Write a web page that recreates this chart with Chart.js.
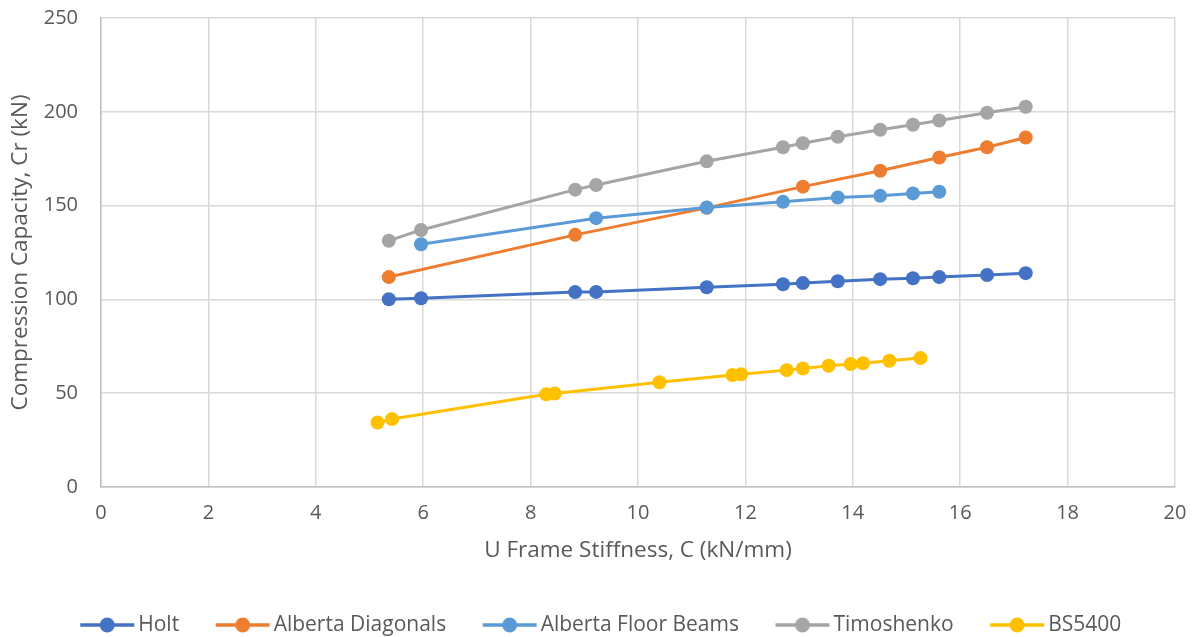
<!DOCTYPE html>
<html>
<head>
<meta charset="utf-8">
<script src="https://cdn.jsdelivr.net/npm/chart.js@4/dist/chart.umd.min.js"></script>
<style>
  html, body { margin: 0; padding: 0; background: #fff; }
  #wrap { width: 1196px; height: 637px; }
</style>
</head>
<body>
<div id="wrap"><canvas id="uframeChart" width="1196" height="637"></canvas></div>
<script>
// series names
const seriesNames = ["Holt", "Alberta Diagonals", "Alberta Floor Beams", "Timoshenko", "BS5400"];
const seriesColors = ["#4472c4", "#ed7d31", "#5b9bd5", "#a5a5a5", "#ffc000"];

// U frame stiffness C (kN/mm) and compression capacity Cr (kN)
const holtC = [5.36, 5.96, 8.83, 9.22, 11.28, 12.70, 13.07, 13.72, 14.51, 15.12, 15.61, 16.50, 17.22];
const holtCr = [100.1, 100.6, 103.9, 104.0, 106.5, 108.1, 108.7, 109.7, 110.8, 111.3, 111.9, 113.0, 114.0];

const diagC = [5.36, 8.83, 11.28, 13.07, 14.51, 15.61, 16.50, 17.22];
const diagCr = [111.9, 134.4, 148.8, 160.1, 168.6, 175.6, 181.1, 186.3];

const floorC = [5.96, 9.22, 11.28, 12.70, 13.72, 14.51, 15.12, 15.61];
const floorCr = [129.4, 143.3, 149.0, 152.0, 154.3, 155.2, 156.5, 157.4];

const timoC = [5.36, 5.96, 8.83, 9.22, 11.28, 12.70, 13.07, 13.72, 14.51, 15.12, 15.61, 16.50, 17.22];
const timoCr = [131.3, 137.0, 158.5, 161.0, 173.6, 181.1, 183.2, 186.7, 190.4, 193.1, 195.4, 199.5, 202.7];

const bsC = [5.15, 5.42, 8.29, 8.45, 10.40, 11.76, 11.92, 12.77, 13.07, 13.55, 13.96, 14.19, 14.68, 15.26];
const bsCr = [34.4, 36.2, 49.4, 49.8, 55.8, 59.7, 60.1, 62.3, 63.2, 64.6, 65.5, 66.0, 67.3, 68.7];

const xs = [holtC, diagC, floorC, timoC, bsC];
const ys = [holtCr, diagCr, floorCr, timoCr, bsCr];

// legend marker: line with a dot, drawn at the right end of a wider
// transparent image so it sits close to its label text
const legendBox = 74;
function legendIcon(color) {
  const c = document.createElement("canvas");
  c.width = legendBox + 15; c.height = 18;
  const g = c.getContext("2d");
  const x0 = c.width - 56;
  g.strokeStyle = color;
  g.lineWidth = 3.5;
  g.beginPath(); g.moveTo(x0 + 1, 9); g.lineTo(x0 + 55, 9); g.stroke();
  g.fillStyle = color;
  g.beginPath(); g.arc(x0 + 28, 9, 7.5, 0, Math.PI * 2); g.fill();
  return c;
}

const datasets = seriesNames.map((name, i) => ({
  label: name,
  data: xs[i].map((x, k) => ({ x: x, y: ys[i][k] })),
  showLine: true,
  borderColor: seriesColors[i],
  backgroundColor: seriesColors[i],
  borderWidth: 3,
  pointRadius: 7,
  pointHoverRadius: 7,
  pointBorderWidth: 0,
  order: seriesNames.length - i   // later series on top, like Excel
}));

const family = "'Open Sans', 'Liberation Sans', sans-serif";
const tickFont = { family: family, size: 20 };
const titleFont = { family: family, size: 22.5 };

new Chart(document.getElementById("uframeChart"), {
  type: "scatter",
  data: { datasets: datasets },
  options: {
    responsive: false,
    animation: false,
    layout: { padding: { top: 0, right: 21, left: 0, bottom: -8.5 } },
    plugins: {
      tooltip: { enabled: false },
      legend: {
        position: "bottom",
        labels: {
          usePointStyle: true,
          pointStyleWidth: legendBox,
          color: "#595959",
          font: { family: family, size: 21 },
          padding: 10,
          generateLabels: function (chart) {
            return chart.data.datasets.map((ds, i) => ({
              text: ds.label,
              fontColor: "#595959",
              pointStyle: legendIcon(seriesColors[i]),
              datasetIndex: i,
              hidden: false,
              lineWidth: 0
            }));
          }
        }
      }
    },
    scales: {
      x: {
        type: "linear",
        min: 0,
        max: 20,
        ticks: { stepSize: 2, color: "#595959", font: tickFont, padding: 14 },
        grid: { color: "#d9d9d9", lineWidth: 1.5, drawTicks: false },
        border: { color: "#bfbfbf", width: 1.5 },
        title: { display: true, text: "U Frame Stiffness, C (kN/mm)", color: "#595959", font: titleFont, padding: { top: 4, bottom: 40 } },
        afterFit: function (scale) {
          scale.height = 117.5;
          scale.paddingLeft = 0;
          scale.paddingRight = 0;
        }
      },
      y: {
        min: 0,
        max: 250,
        ticks: { stepSize: 50, color: "#595959", font: tickFont, padding: 23 },
        grid: { color: "#d9d9d9", lineWidth: 1.5, drawTicks: false },
        border: { color: "#bfbfbf", width: 1.5 },
        title: { display: true, text: "Compression Capacity, Cr (kN)", color: "#595959", font: titleFont, padding: { top: 7, bottom: 4 } },
        afterFit: function (scale) {
          scale.width = 101;
          scale.paddingTop = 18;
          scale.paddingBottom = 0;
        }
      }
    }
  }
});
</script>
</body>
</html>
